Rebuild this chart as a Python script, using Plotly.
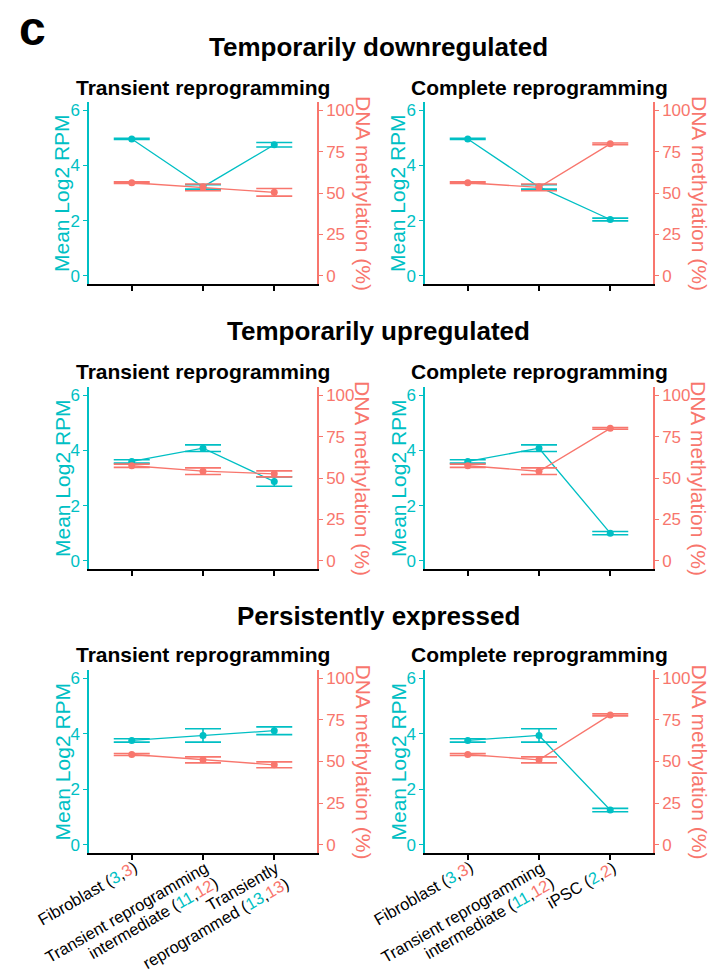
import plotly.graph_objects as go

W, H = 715, 970
CYAN = "#00BFC4"
SALMON = "#F8766D"
FONT = "Liberation Sans, Arial, sans-serif"

# ---------------- data ----------------
row_titles = ["Temporarily downregulated", "Temporarily upregulated", "Persistently expressed"]
panel_titles = ["Transient reprogramming", "Complete reprogramming"]

transient_categories = ["Fibroblast", "Transient reprogramming<br>intermediate", "Transiently<br>reprogrammed"]
complete_categories = ["Fibroblast", "Transient reprogramming<br>intermediate", "iPSC"]
transient_n_rna = [3, 11, 13]
transient_n_meth = [3, 12, 13]
complete_n_rna = [3, 11, 2]
complete_n_meth = [3, 12, 2]

# Temporarily downregulated
down_rpm_transient = [4.96, 3.22, 4.75]
down_rpm_transient_err = [0.02, 0.08, 0.08]
down_meth_transient = [56.2, 53.4, 50.4]
down_meth_transient_err = [0.5, 2.0, 2.3]
down_rpm_complete = [4.96, 3.22, 2.04]
down_rpm_complete_err = [0.02, 0.08, 0.05]
down_meth_complete = [56.2, 53.4, 79.7]
down_meth_complete_err = [0.5, 2.0, 0.5]

# Temporarily upregulated
up_rpm_transient = [3.60, 4.08, 2.87]
up_rpm_transient_err = [0.06, 0.12, 0.17]
up_meth_transient = [57.4, 54.1, 52.5]
up_meth_transient_err = [1.0, 2.0, 1.8]
up_rpm_complete = [3.60, 4.08, 1.00]
up_rpm_complete_err = [0.06, 0.12, 0.06]
up_meth_complete = [57.4, 54.1, 80.0]
up_meth_complete_err = [1.0, 2.0, 0.5]

# Persistently expressed
pers_rpm_transient = [3.76, 3.94, 4.11]
pers_rpm_transient_err = [0.06, 0.24, 0.14]
pers_meth_transient = [54.2, 51.0, 48.0]
pers_meth_transient_err = [0.6, 1.8, 1.8]
pers_rpm_complete = [3.76, 3.94, 1.25]
pers_rpm_complete_err = [0.06, 0.24, 0.06]
pers_meth_complete = [54.2, 51.0, 78.0]
pers_meth_complete_err = [0.6, 1.8, 0.6]

rpm_ticks = [0, 2, 4, 6]
meth_ticks = [0, 25, 50, 75, 100]

# ---------------- layout helpers ----------------
def px_x(v):
    return v / W

def px_y(v):
    return 1 - v / H

col_left = [89, 425]
col_right = [317, 653]
row_top = [102, 387, 670]
row_bottom = [284, 569, 853]
row_title_y = [47, 331, 616]
panel_title_y = [87, 371, 654]
LABEL_TOP = 855
LABEL_FS = 16.5
LABEL_LH = 18.5
SIN30, COS30 = 0.5, 0.866


def label(cats, n1, n2):
    out = []
    for c, a, b in zip(cats, n1, n2):
        out.append(f"{c} (<span style='color:{CYAN}'>{a}</span>,<span style='color:{SALMON}'>{b}</span>)")
    return out

panels = [
    [(down_rpm_transient, down_rpm_transient_err, down_meth_transient, down_meth_transient_err),
     (down_rpm_complete, down_rpm_complete_err, down_meth_complete, down_meth_complete_err)],
    [(up_rpm_transient, up_rpm_transient_err, up_meth_transient, up_meth_transient_err),
     (up_rpm_complete, up_rpm_complete_err, up_meth_complete, up_meth_complete_err)],
    [(pers_rpm_transient, pers_rpm_transient_err, pers_meth_transient, pers_meth_transient_err),
     (pers_rpm_complete, pers_rpm_complete_err, pers_meth_complete, pers_meth_complete_err)],
]
tick_labels = [label(transient_categories, transient_n_rna, transient_n_meth),
               label(complete_categories, complete_n_rna, complete_n_meth)]

fig = go.Figure()
layout = dict(
    width=W, height=H, margin=dict(l=0, r=0, t=0, b=0, autoexpand=False),
    paper_bgcolor="white", plot_bgcolor="white", showlegend=False,
    font=dict(family=FONT, color="black"),
)
annotations = []

k = 0
for r in range(3):
    for c in range(2):
        k += 1
        xi = k
        yl = 2 * k - 1
        yr = 2 * k
        xname = "x" if xi == 1 else f"x{xi}"
        ylname = "y" if yl == 1 else f"y{yl}"
        yrname = f"y{yr}"
        rpm, rpm_err, meth, meth_err = panels[r][c]
        xs = list(range(len(rpm)))

        fig.add_trace(go.Scatter(
            x=xs, y=meth, xaxis=xname, yaxis=yrname, mode="lines+markers",
            line=dict(color=SALMON, width=1.3), marker=dict(color=SALMON, size=7),
            error_y=dict(type="data", array=meth_err, color=SALMON, thickness=1.6, width=18),
        ))
        fig.add_trace(go.Scatter(
            x=xs, y=rpm, xaxis=xname, yaxis=ylname, mode="lines+markers",
            line=dict(color=CYAN, width=1.3), marker=dict(color=CYAN, size=7),
            error_y=dict(type="data", array=rpm_err, color=CYAN, thickness=1.6, width=18),
        ))

        xdom = [px_x(col_left[c]), px_x(col_right[c])]
        ydom = [px_y(row_bottom[r]), px_y(row_top[r])]
        xkey = "xaxis" if xi == 1 else f"xaxis{xi}"
        ylkey = "yaxis" if yl == 1 else f"yaxis{yl}"
        yrkey = f"yaxis{yr}"
        layout[xkey] = dict(
            domain=xdom, anchor=ylname, range=[-0.6, 2.6], automargin=False,
            tickvals=xs, showticklabels=False,
            ticks="outside", ticklen=5, tickwidth=1.5, tickcolor="black",
            showline=True, linecolor="black", linewidth=1.6,
            showgrid=False, zeroline=False, fixedrange=True,
        )
        layout[ylkey] = dict(
            domain=ydom, anchor=xname, range=[-0.3, 6.3], tickvals=rpm_ticks,
            automargin=False,
            tickfont=dict(size=17, color=CYAN, family=FONT),
            ticks="outside", ticklen=4, tickwidth=1.2, tickcolor=CYAN,
            showline=True, linecolor=CYAN, linewidth=1.5,
            showgrid=False, zeroline=False,
        )
        layout[yrkey] = dict(
            domain=ydom, anchor=xname, overlaying=ylname, side="right",
            range=[-5, 105], tickvals=meth_ticks, automargin=False,
            tickfont=dict(size=17, color=SALMON, family=FONT),
            ticks="outside", ticklen=4, tickwidth=1.2, tickcolor=SALMON,
            showline=True, linecolor=SALMON, linewidth=1.5,
            showgrid=False, zeroline=False,
        )

        # rotated category labels on the bottom row (angle 30, right-justified lines)
        if r == 2:
            h1 = 2 + LABEL_FS * 1.2
            for i, txt in zip(xs, tick_labels[c]):
                for j, line in enumerate(txt.split("<br>")):
                    annotations.append(dict(
                        text=line, x=i, xref=xname,
                        y=px_y(LABEL_TOP + j * LABEL_LH * COS30), yref="paper",
                        xanchor="right", yanchor="top", align="right", textangle=-30,
                        xshift=0 + h1 * SIN30 + j * LABEL_LH * SIN30, showarrow=False,
                        font=dict(size=LABEL_FS, color="black", family=FONT)))

        ymid = (row_top[r] + row_bottom[r]) / 2
        annotations.append(dict(
            text="Mean Log2 RPM", x=px_x(col_left[c] - 27), y=px_y(ymid),
            xref="paper", yref="paper", xanchor="center", yanchor="middle",
            textangle=-90, showarrow=False, font=dict(size=21, color=CYAN, family=FONT)))
        annotations.append(dict(
            text="DNA methylation (%)", x=px_x(col_right[c] + 46), y=px_y(ymid),
            xref="paper", yref="paper", xanchor="center", yanchor="middle",
            textangle=90, showarrow=False, font=dict(size=21, color=SALMON, family=FONT)))
        annotations.append(dict(
            text=f"<b>{panel_titles[c]}</b>", x=px_x((col_left[c] + col_right[c]) / 2),
            y=px_y(panel_title_y[r]), xref="paper", yref="paper",
            xanchor="center", yanchor="middle", showarrow=False,
            font=dict(size=21, color="black", family=FONT)))
    annotations.append(dict(
        text=f"<b>{row_titles[r]}</b>", x=px_x(378), y=px_y(row_title_y[r]),
        xref="paper", yref="paper", xanchor="center", yanchor="middle",
        showarrow=False, font=dict(size=26, color="black", family=FONT)))

annotations.append(dict(
    text="<b>c</b>", x=px_x(32), y=px_y(28), xref="paper", yref="paper",
    xanchor="center", yanchor="middle", showarrow=False,
    font=dict(size=48, color="black", family=FONT)))

layout["annotations"] = annotations
fig.update_layout(**layout)
fig.write_html("out.html")
